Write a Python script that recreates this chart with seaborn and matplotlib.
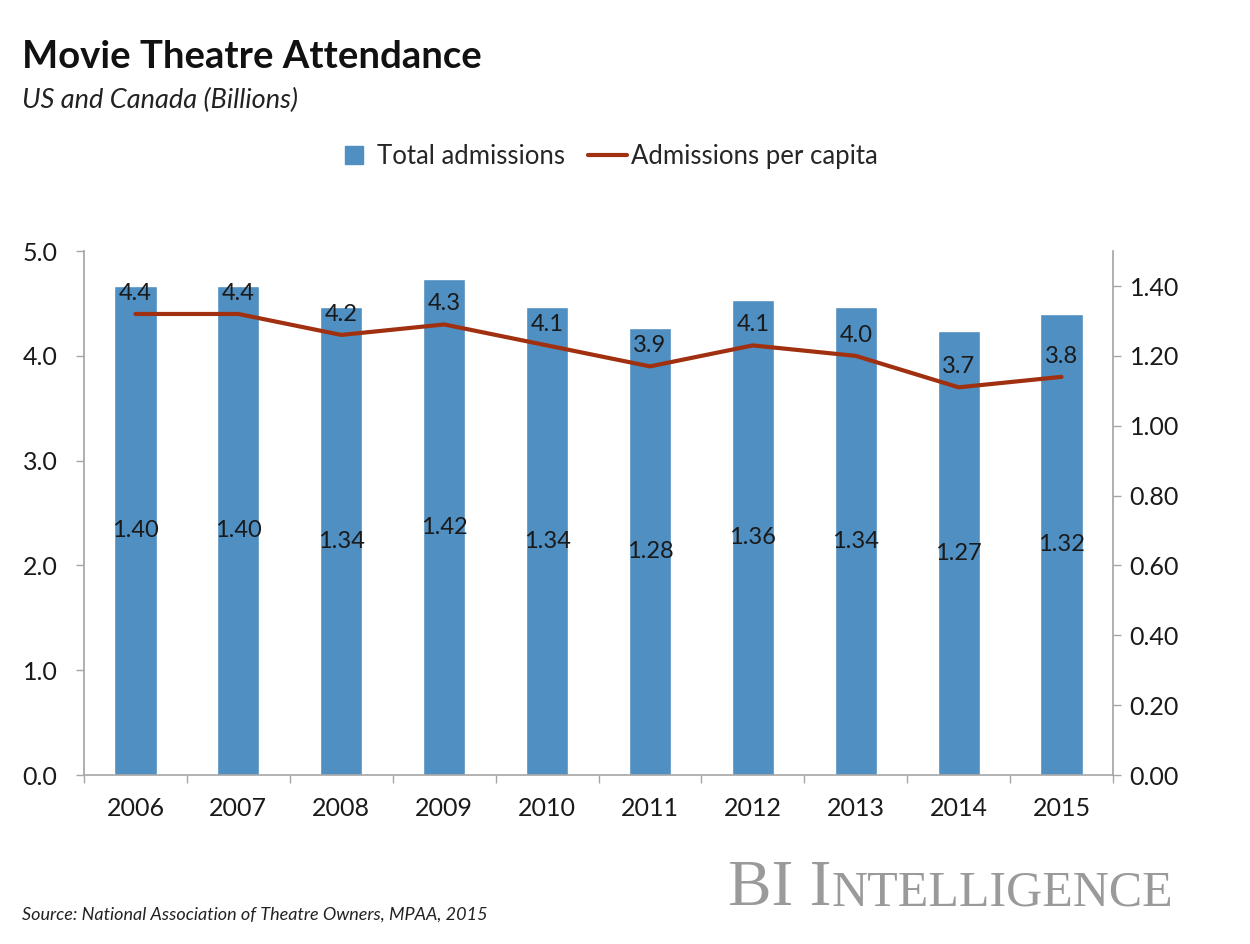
import matplotlib
matplotlib.use("Agg")
import matplotlib.pyplot as plt
import seaborn as sns
import numpy as np
import pandas as pd
from matplotlib.lines import Line2D

years = ["2006", "2007", "2008", "2009", "2010", "2011", "2012", "2013", "2014", "2015"]
total_admissions = [1.40, 1.40, 1.34, 1.42, 1.34, 1.28, 1.36, 1.34, 1.27, 1.32]
per_capita = [4.4, 4.4, 4.2, 4.3, 4.1, 3.9, 4.1, 4.0, 3.7, 3.8]
left_ticks = [0.0, 1.0, 2.0, 3.0, 4.0, 5.0]
right_ticks = [0.0, 0.2, 0.4, 0.6, 0.8, 1.0, 1.2, 1.4]

df = pd.DataFrame({"year": years, "total": total_admissions, "capita": per_capita})

sns.set_theme(style="white")
plt.rcParams["font.family"] = ["Lato", "DejaVu Sans"]

BAR = "#4F8FC2"
LINE = "#A0300F"
GRAY = "#A6A6A6"
TXT = "#1a1a1a"

fig = plt.figure(figsize=(12.5, 9.44), dpi=100)
ax = fig.add_axes([0.0672, 0.179, 0.8232, 0.555])
ax2 = ax.twinx()

# bars (right-hand scale)
sns.barplot(data=df, x="year", y="total", color=BAR, width=0.41, saturation=1, ax=ax)
ax.bar_label(ax.containers[0], labels=[f"{v:.2f}" for v in total_admissions],
             label_type="center", fontsize=17, color=TXT)

# line (left-hand scale)
sns.pointplot(data=df, x="year", y="capita", color=LINE, markers="", linewidth=3,
              ax=ax2, errorbar=None)
for i, v in enumerate(per_capita):
    ax2.annotate(f"{v:.1f}", xy=(i, v), xytext=(0, 15), textcoords="offset points",
                 ha="center", va="center", fontsize=17, color=TXT)

ax.set_ylim(0, 1.5)
ax.set_yticks(right_ticks)
ax.set_yticklabels([f"{v:.2f}" for v in right_ticks])
ax2.set_ylim(0, 5.0)
ax2.set_yticks(left_ticks)
ax2.set_yticklabels([f"{v:.1f}" for v in left_ticks])

for a in (ax, ax2):
    a.set_xlabel("")
    a.set_ylabel("")
    for s in a.spines.values():
        s.set_visible(False)
    a.grid(False)
    a.set_xlim(-0.5, len(years) - 0.5)

ax.yaxis.set_ticks_position("right")
ax.yaxis.set_label_position("right")
ax2.yaxis.set_ticks_position("left")
ax2.yaxis.set_label_position("left")

ax.spines["bottom"].set_visible(True)
ax.spines["bottom"].set_color(GRAY)
ax.spines["bottom"].set_linewidth(1.2)
ax.spines["right"].set_visible(True)
ax.spines["right"].set_color(GRAY)
ax2.spines["left"].set_visible(True)
ax2.spines["left"].set_color(GRAY)

ax.tick_params(axis="y", which="major", direction="out", length=6, width=1, color=GRAY,
               pad=6, labelsize=18, labelcolor=TXT, right=True, left=False,
               labelright=True, labelleft=False)
ax2.tick_params(axis="y", which="major", direction="out", length=6, width=1, color=GRAY,
                pad=13, labelsize=18, labelcolor=TXT, left=True, right=False,
                labelleft=True, labelright=False)
ax.tick_params(axis="x", which="major", length=0, pad=16, labelsize=18, labelcolor=TXT)
ax.set_xticks(np.arange(-0.5, len(years), 1.0), minor=True)
ax.tick_params(axis="x", which="minor", direction="out", length=6, width=1, color=GRAY, bottom=True)
ax2.tick_params(axis="x", which="both", length=0, labelbottom=False)

# titles
fig.text(0.0176, 0.94, "Movie Theatre Attendance", fontsize=27.5, fontweight="bold",
         color="#111111", ha="left", va="center")
fig.text(0.0176, 0.894, "US and Canada (Billions)", fontsize=19.5, style="italic",
         color="#222222", ha="left", va="center")

# legend
handles = [Line2D([0], [0], marker="s", linestyle="none", markersize=13,
                  markerfacecolor=BAR, markeredgecolor=BAR),
           Line2D([0], [0], color=LINE, linewidth=3)]
fig.legend(handles, ["Total admissions", "Admissions per capita"], loc="center",
           bbox_to_anchor=(0.485, 0.834), ncol=2, frameon=False, fontsize=18.5,
           handlelength=1.5, handletextpad=0.15, columnspacing=0.9)

# source and branding
fig.text(0.0176, 0.031, "Source: National Association of Theatre Owners, MPAA, 2015",
         fontsize=13, style="italic", color="#222222", ha="left", va="center")
t1 = fig.text(0.5824, 0.041, "BI I", fontsize=47, family="Liberation Serif",
              color="#9a9a9a", ha="left", va="baseline")
fig.canvas.draw()
bb = t1.get_window_extent()
fig.text(bb.x1 / fig.bbox.width, 0.041, "NTELLIGENCE", fontsize=36, family="Liberation Serif",
         color="#9a9a9a", ha="left", va="baseline")

fig.savefig("out.png", dpi=100, facecolor="white")
